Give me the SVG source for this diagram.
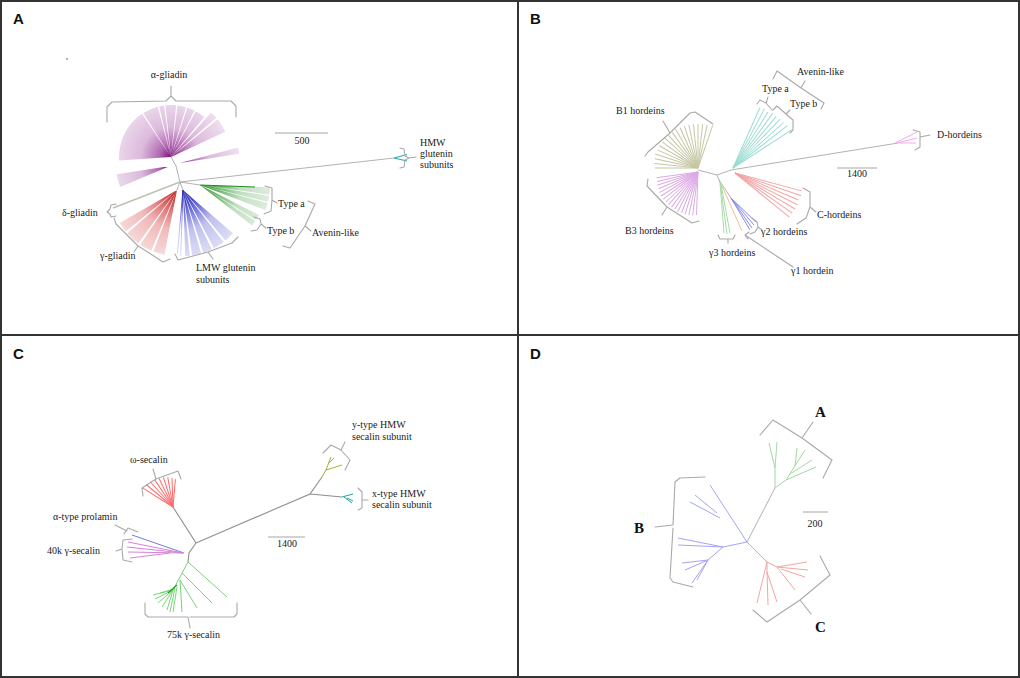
<svg xmlns="http://www.w3.org/2000/svg" width="1020" height="678" viewBox="0 0 1020 678">
<style>
.t{font-family:"Liberation Serif","Times New Roman",serif;font-size:10px;fill:#1a1a1a}
.m{text-anchor:middle}
.pl{font-family:"Liberation Sans",Arial,sans-serif;font-weight:bold;font-size:15px;fill:#111}
.dl{font-family:"Liberation Serif","Times New Roman",serif;font-weight:bold;font-size:15px;fill:#111}
.br{fill:none;stroke:#a9a9a9;stroke-width:1.1;stroke-linejoin:round;stroke-linecap:round}
.tr{fill:none;stroke:#b2b2b2;stroke-width:1}
.trc{fill:none;stroke:#8f8f8f;stroke-width:1.1}
.sb{stroke:#a5a5a5;stroke-width:1}
.fan circle{fill:none}
.frame{fill:none;stroke:#333;stroke-width:2}
</style>
<defs>
<radialGradient id="gP" gradientUnits="userSpaceOnUse" cx="0" cy="0" r="60"><stop offset="0" stop-color="#7a107a"/><stop offset="0.2" stop-color="#b26ab2"/><stop offset="0.5" stop-color="#dcbadc"/><stop offset="1" stop-color="#eee0ee"/></radialGradient>
<radialGradient id="gR" gradientUnits="userSpaceOnUse" cx="0" cy="0" r="66"><stop offset="0" stop-color="#b01818"/><stop offset="0.3" stop-color="#de7070"/><stop offset="0.6" stop-color="#f0b8b8"/><stop offset="1" stop-color="#f7d8d8"/></radialGradient>
<radialGradient id="gB" gradientUnits="userSpaceOnUse" cx="0" cy="0" r="66"><stop offset="0" stop-color="#1818b0"/><stop offset="0.3" stop-color="#6a6ad8"/><stop offset="0.6" stop-color="#c0c0ee"/><stop offset="1" stop-color="#dcdcf6"/></radialGradient>
<radialGradient id="gG" gradientUnits="userSpaceOnUse" cx="0" cy="0" r="70"><stop offset="0" stop-color="#188018"/><stop offset="0.3" stop-color="#70b870"/><stop offset="0.6" stop-color="#c4e0c4"/><stop offset="1" stop-color="#dcecdc"/></radialGradient>
</defs>
<rect width="1020" height="678" fill="#fff"/>

<!-- Panel A -->
<g id="panelA">
<text class="pl" x="13" y="24">A</text>
<circle cx="67" cy="59" r="0.8" fill="#555"/>
<g id="A-connectors">
<path class="tr" d="M180 182 L176 166 L171 157 M180 182 L394 158 M180 182 L177 190 M180 182 L183 190 M180 182 L200 185"/>
<path d="M180 182 L113 208" stroke="#b9c4b1" stroke-width="1.6" fill="none"/>
<path d="M394 158 L407 154.5 M394 158 L407 161" stroke="#2aa8a8" stroke-width="1.1" fill="none"/>
</g>
<g id="A-alpha" class="fan">
<g transform="translate(171 157)" stroke="url(#gP)">
<circle r="26" stroke-width="52" pathLength="360" stroke-dasharray="0 176 60 1.5 17.5 1.5 5.5 1.5 12.5 1.5 9.5 1.5 8.5 1.5 11.5 50"/>
<circle r="30" stroke-width="60" pathLength="360" stroke-dasharray="0 312 7 2 14 25"/>
</g>
<g transform="translate(170 166)" stroke="url(#gP)"><circle r="27" stroke-width="54" pathLength="360" stroke-dasharray="0 157 14 189"/></g>
<g transform="translate(180 163)" stroke="url(#gP)"><circle r="30" stroke-width="60" pathLength="360" stroke-dasharray="0 345 6 9"/></g>
<path class="br" d="M107 122 L107 107 L112 102 L166 101 L171 96 L171 86 M171 96 L176 101 L231 101 L236 106 L236 117"/>
<text class="t m" x="169" y="78">α-gliadin</text>
</g>
<g id="A-gamma" class="fan">
<g transform="translate(177 190)" stroke="url(#gR)"><circle r="33" stroke-width="66" pathLength="360" stroke-dasharray="0 101 10 2 11 2 13 2 9 210"/></g>
<path class="br" d="M114 218 L116 224 L138 246 L134 252 M138 246 L143 249 L163 262 L170 259"/>
<text class="t" x="100" y="259">γ-gliadin</text>
</g>
<g id="A-delta">
<path class="br" d="M116 204 L111 205 L110 209 L107 212 L110 214 L111 217 L116 216"/>
<text class="t" x="62" y="216">δ-gliadin</text>
</g>
<g id="A-lmw" class="fan">
<g transform="translate(183 190)" stroke="url(#gB)">
<circle r="33" stroke-width="66" pathLength="360" stroke-dasharray="0 41 9 2 10 2 8 2 8 2 4 272"/>
<line x2="66" transform="rotate(92)" stroke-width="1"/>
<line x2="64" transform="rotate(95)" stroke-width="1"/>
</g>
<path class="br" d="M175 254 L178 260 L208 252 L213 259 M208 252 L232 243 L238 237"/>
<text class="t" x="196" y="271">LMW glutenin</text>
<text class="t" x="196" y="283">subunits</text>
</g>
<g id="A-avenin" class="fan">
<g transform="translate(200 185)" stroke="url(#gG)">
<circle r="35" stroke-width="70" pathLength="360" stroke-dasharray="0 2 6 1 5 1 6 339"/>
<circle r="33" stroke-width="66" pathLength="360" stroke-dasharray="0 27 5 1 5 322"/>
<line x2="55" transform="rotate(2)" stroke="#2a8a2a" stroke-width="1"/>
</g>
<path class="br" d="M265 186 L272 188 L272 200 L277 203 M272 200 L271 211 L264 214"/>
<path class="br" d="M254 217 L260 219 L261 224 L266 228 M261 224 L257 230 L251 231"/>
<path class="br" d="M308 201 L315 204 L305 226 L311 231 M305 226 L290 248 L283 246"/>
<text class="t" x="278" y="207">Type a</text>
<text class="t" x="267" y="234">Type b</text>
<text class="t" x="312" y="236">Avenin-like</text>
</g>
<g id="A-hmw">
<path class="br" d="M400 148 L404 149 L405 156 L409 158 L405 160 L404 167 L400 168 M409 158 L416 157"/>
<text class="t" x="420" y="146">HMW</text>
<text class="t" x="420" y="157">glutenin</text>
<text class="t" x="420" y="168">subunits</text>
</g>
<g id="A-scale"><path class="sb" d="M275 133 H328"/><text class="t m" x="302" y="144">500</text></g>
</g>

<!-- Panel B -->
<g id="panelB">
<text class="pl" x="530" y="24">B</text>
<g id="B-connectors">
<path class="tr" d="M698 170 L717 175 L731 170 M717 175 L720 182 M731 170 L898 143 M719 180 L731 198"/>
</g>
<g id="B-B1" transform="translate(698 168)" stroke="#c6c6a4" stroke-width="1">
<line x2="43" transform="rotate(180)"/><line x2="44" transform="rotate(186)"/><line x2="44" transform="rotate(192)"/><line x2="45" transform="rotate(198)"/><line x2="44" transform="rotate(204)"/><line x2="45" transform="rotate(210)"/><line x2="44" transform="rotate(216)"/><line x2="45" transform="rotate(222)"/><line x2="44" transform="rotate(228)"/><line x2="44" transform="rotate(234)"/><line x2="45" transform="rotate(240)"/><line x2="44" transform="rotate(246)"/><line x2="44" transform="rotate(252)"/><line x2="44" transform="rotate(258)"/><line x2="44" transform="rotate(264)"/><line x2="44" transform="rotate(270)"/><line x2="44" transform="rotate(276)"/><line x2="44" transform="rotate(282)"/><line x2="45" transform="rotate(289)"/>
</g>
<path class="br" d="M645 156 L648 152 L670 133 L663 121 M670 133 L690 113 L695 112 L713 124"/>
<text class="t" x="616" y="114">B1 hordeins</text>
<g id="B-B3" transform="translate(698 172)" stroke="#dcaae4" stroke-width="1">
<line x2="43" transform="rotate(92)"/><line x2="44" transform="rotate(97)"/><line x2="44" transform="rotate(102)"/><line x2="44" transform="rotate(107)"/><line x2="44" transform="rotate(112)"/><line x2="45" transform="rotate(117)"/><line x2="44" transform="rotate(122)"/><line x2="44" transform="rotate(127)"/><line x2="44" transform="rotate(132)"/><line x2="44" transform="rotate(137)"/><line x2="44" transform="rotate(142)"/><line x2="44" transform="rotate(147)"/><line x2="44" transform="rotate(152)"/><line x2="43" transform="rotate(157)"/><line x2="43" transform="rotate(162)"/><line x2="42" transform="rotate(167)"/><line x2="42" transform="rotate(172)"/>
</g>
<path class="br" d="M648 179 L647 186 L667 207 L662 215 M667 207 L692 223 L699 221"/>
<text class="t" x="625" y="234">B3 hordeins</text>
<g id="B-avenin">
<g transform="translate(733 168)" stroke="#9adcd4" stroke-width="1">
<line x2="66" transform="rotate(294)"/><line x2="67" transform="rotate(298)"/><line x2="66" transform="rotate(302)"/><line x2="68" transform="rotate(306)"/><line x2="67" transform="rotate(310)"/><line x2="68" transform="rotate(314)"/><line x2="68" transform="rotate(318)"/><line x2="69" transform="rotate(322)"/><line x2="70" transform="rotate(327)"/>
</g>
<path class="br" d="M757 104 L760 100 L766 103 L768 97 M766 103 L772 110"/>
<path class="br" d="M773 110 L777 106 L786 114 L790 110 M786 114 L793 120 L793 130 L790 133"/>
<path class="br" d="M773 79 L777 71 L801 88 L805 81 M801 88 L824 103 L821 109"/>
<text class="t" x="762" y="92">Type a</text>
<text class="t" x="790" y="107">Type b</text>
<text class="t" x="797" y="75">Avenin-like</text>
</g>
<g id="B-D">
<path d="M895 143 L917 132 M897 143 L917 138 M899 143 L916 143" stroke="#f0aae8" stroke-width="1" fill="none"/>
<path class="br" d="M913 130 L920 132 L920 137 L930 135 M920 137 L920 147 L915 150"/>
<text class="t" x="937" y="138">D-hordeins</text>
</g>
<g id="B-C">
<g transform="translate(735 173)" stroke="#f4a4a4" stroke-width="1">
<line x2="69" transform="rotate(15)"/><line x2="70" transform="rotate(19)"/><line x2="69" transform="rotate(23)"/><line x2="70" transform="rotate(27)"/><line x2="70" transform="rotate(31)"/><line x2="70" transform="rotate(35)"/><line x2="70" transform="rotate(39)"/>
</g>
<path class="br" d="M803 188 L810 192 L810 207 L816 212 M810 207 L806 218 L797 224"/>
<text class="t" x="817" y="218">C-hordeins</text>
</g>
<g id="B-gamma">
<path d="M720 182 L724 233 M720 182 L727 234 M721 184 L730 233" stroke="#a8dca8" stroke-width="1" fill="none"/>
<path d="M722 186 L742 231" stroke="#f4c090" stroke-width="1" fill="none"/>
<path d="M731 198 L750 230 M731 198 L752 228 M732 199 L754 225 M732 199 L756 222" stroke="#8a8ae8" stroke-width="1" fill="none"/>
<path class="br" d="M718 235 L720 239 L733 239 L735 235 M728 239 L728 243"/>
<path class="br" d="M752 218 L757 222 L758 227 L762 230 M758 227 L755 232 L750 234"/>
<path class="br" d="M749 232 L745 235 L748 239 M745 235 L793 267"/>
<text class="t" x="761" y="235">γ2 hordeins</text>
<text class="t" x="709" y="256">γ3 hordeins</text>
<text class="t" x="791" y="274">γ1 hordein</text>
</g>
<g id="B-scale"><path class="sb" d="M837 168 H877"/><text class="t m" x="857" y="177">1400</text></g>
</g>

<!-- Panel C -->
<g id="panelC">
<text class="pl" x="13" y="359">C</text>
<g id="C-connectors">
<path class="trc" d="M196 543 L173 507 M196 543 L189 553 L188 562 M196 543 L310 494 L322 477 M310 494 L342 497"/>
</g>
<g id="C-omega">
<g transform="translate(173 507)" stroke="#ff6c6c" stroke-width="1">
<line x2="36" transform="rotate(212)"/><line x2="35" transform="rotate(220)"/><line x2="34" transform="rotate(228)"/><line x2="33" transform="rotate(236)"/><line x2="32" transform="rotate(244)"/><line x2="31" transform="rotate(252)"/><line x2="30" transform="rotate(260)"/><line x2="29" transform="rotate(268)"/><line x2="28" transform="rotate(275)"/>
</g>
<path class="br" d="M143 496 L142 488 L156 479 L153 469 M156 479 L178 471 L181 479"/>
<text class="t" x="130" y="463">ω-secalin</text>
</g>
<g id="C-alpha">
<path d="M184 553 L132 535" stroke="#7878e0" stroke-width="1" fill="none"/>
<path class="br" d="M115 525 L127 531 M124 534 L128 528 L138 532"/>
<text class="t" x="53" y="520">α-type prolamin</text>
</g>
<g id="C-40k">
<path d="M183 553 L128 542 M183 553 L127 547 M183 553 L128 552 M170 553 L130 558" stroke="#d684d8" stroke-width="1" fill="none"/>
<path class="br" d="M132 539 L123 540 L122 549 L116 551 M122 549 L123 560 L132 562"/>
<text class="t" x="47" y="554">40k γ-secalin</text>
</g>
<g id="C-75k">
<path d="M188 562 L173 590 M188 562 L227 597 M182 573 L212 603 M180 580 L197 608 M180 580 L182 612 M177 587 L173 612 M173 590 L153 595 M173 590 L155 599 M173 590 L158 603 M173 590 L162 607 M173 590 L167 610 M175 588 L170 612 M174 589 L160 593" stroke="#78d478" stroke-width="1" fill="none"/>
<path d="M177 585 L168 593" stroke="#1c9a1c" stroke-width="1.2"/>
<path class="br" d="M145 603 L145 614 L148 617 L188 617 L190 628 M190 617 L234 617 L237 614 L237 603"/>
<text class="t" x="167" y="638">75k γ-secalin</text>
</g>
<g id="C-y">
<path d="M322 477 L326 470 L331 457 M326 470 L342 465 M329 463 L334 458" stroke="#acac3a" stroke-width="1" fill="none"/>
<path class="br" d="M323 453 L331 445 L341 450 L345 442 M341 450 L350 460 L345 470"/>
<text class="t" x="352" y="428">y-type HMW</text>
<text class="t" x="352" y="440">secalin subunit</text>
</g>
<g id="C-x">
<path d="M342 497 L353 494 M344 497 L352 503 M347 498 L353 501" stroke="#20a0a0" stroke-width="1" fill="none"/>
<path class="br" d="M358 488 L362 492 L362 500 L368 500 M362 500 L362 508 L358 510"/>
<text class="t" x="372" y="497">x-type HMW</text>
<text class="t" x="372" y="508">secalin subunit</text>
</g>
<g id="C-scale"><path class="sb" d="M268 537 H305"/><text class="t m" x="287" y="547">1400</text></g>
</g>

<!-- Panel D -->
<g id="panelD">
<text class="pl" x="530" y="359">D</text>
<g id="D-connectors"><path class="tr" d="M747 542 L775 488 M747 542 L767 562"/></g>
<g id="D-A">
<path d="M775 488 L775 468 L769 443 M775 468 L777 442 M775 488 L786 480 L805 450 M786 480 L816 467 M790 474 L812 460 M795 466 L797 448" stroke="#a4d8a4" stroke-width="1" fill="none"/>
<path class="br" d="M760 435 L773 420 L802 438 L813 422 M802 438 L832 460 L823 478"/>
<text class="dl" x="815" y="417">A</text>
</g>
<g id="D-B">
<path d="M747 542 L710 485 M720 518 L690 502 M717 513 L695 495 M747 542 L723 547 L678 538 M723 547 L678 545 M723 547 L708 560 L682 563 M708 560 L685 570 M708 560 L692 583 M708 560 L697 580" stroke="#a4a4f0" stroke-width="1" fill="none"/>
<path class="br" d="M705 477 L680 478 L675 482 L673 525 L655 527 M673 528 L670 578 L673 582 L693 587"/>
<text class="dl" x="634" y="533">B</text>
</g>
<g id="D-C">
<path d="M767 562 L777 567 L807 562 M777 567 L808 570 M781 569 L805 577 M777 567 L795 590 M767 562 L757 603 M767 562 L767 572 L768 605 M767 572 L777 602" stroke="#f4a4a4" stroke-width="1" fill="none"/>
<path class="br" d="M753 610 L767 622 L800 600 L811 614 M800 600 L830 575 L820 556"/>
<text class="dl" x="815" y="632">C</text>
</g>
<g id="D-scale"><path class="sb" d="M803 512 H828"/><text class="t m" x="815" y="527">200</text></g>
</g>

<g id="frame">
<rect class="frame" x="1" y="1" width="1018" height="676"/>
<path class="frame" d="M518 0 V678 M0 335 H1020"/>
</g>
</svg>
